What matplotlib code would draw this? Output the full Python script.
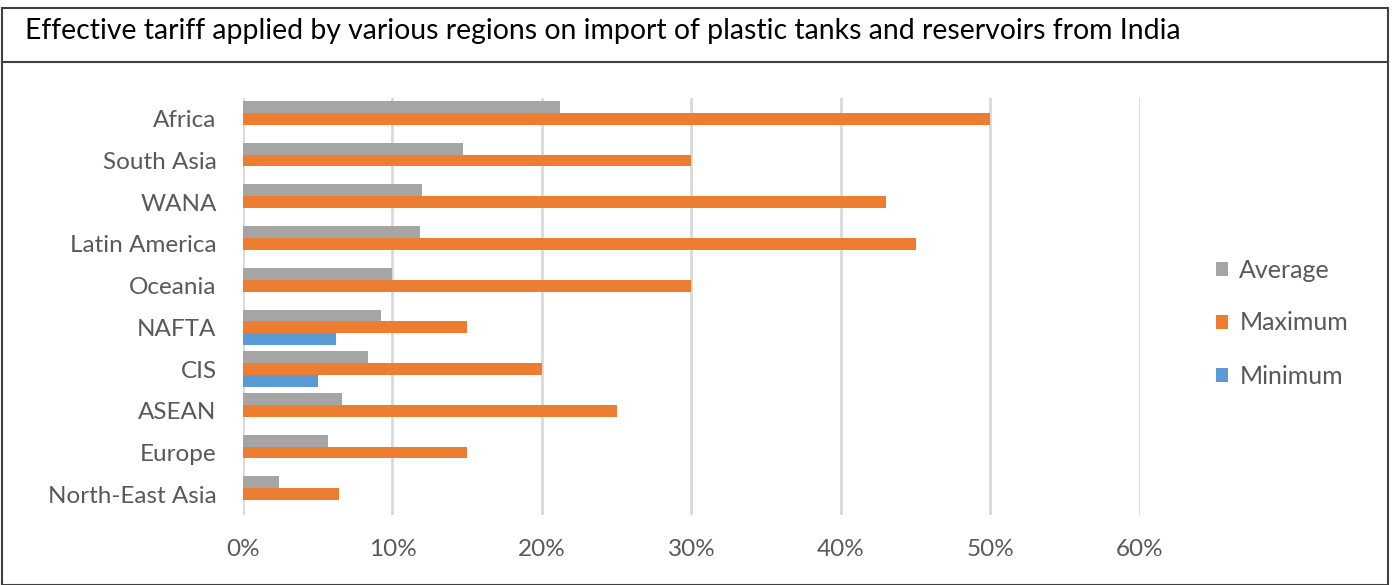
import numpy as np
import matplotlib
matplotlib.use('Agg')
import matplotlib.pyplot as plt
from matplotlib.lines import Line2D
from matplotlib.patches import Rectangle

regions = ["Africa", "South Asia", "WANA", "Latin America", "Oceania",
           "NAFTA", "CIS", "ASEAN", "Europe", "North-East Asia"]
average = [21.2, 14.7, 12.0, 11.85, 10.0, 9.25, 8.35, 6.6, 5.7, 2.4]
maximum = [50, 30, 43, 45, 30, 15, 20, 25, 15, 6.45]
minimum = [0, 0, 0, 0, 0, 6.2, 5.0, 0, 0, 0]
x_ticks = [0, 10, 20, 30, 40, 50, 60]
title = "Effective tariff applied by various regions on import of plastic tanks and reservoirs from India"

plt.rcParams['font.family'] = ['Lato', 'DejaVu Sans']
text_col = '#595959'

fig = plt.figure(figsize=(13.92, 5.85), dpi=100)
ax = fig.add_axes([243 / 1392, 1 - 515 / 585, (1140 - 243) / 1392, (515 - 98) / 585])

y = np.arange(len(regions))
h = 0.285
ax.barh(y - h, average, h, color='#A5A5A5', label='Average')
ax.barh(y, maximum, h, color='#ED7D31', label='Maximum')
ax.barh(y + h, minimum, h, color='#5B9BD5', label='Minimum')

ax.set_ylim(9.5, -0.5)
ax.set_xlim(0, 60)
ax.set_yticks(y)
ax.set_yticklabels(regions, fontsize=17.5, color=text_col)
ax.set_xticks(x_ticks)
ax.set_xticklabels([f"{t}%" for t in x_ticks], fontsize=17.5, color=text_col)
ax.tick_params(axis='y', length=0, pad=19)
ax.tick_params(axis='x', length=0, pad=17)
ax.grid(axis='x', color='#D9D9D9', linewidth=2)
ax.set_axisbelow(True)
for s in ax.spines.values():
    s.set_visible(False)

handles, labels = ax.get_legend_handles_labels()
fig.legend(handles, labels, loc='center left', bbox_to_anchor=(1193 / 1392, 1 - 323 / 585),
           frameon=False, fontsize=18, labelcolor=text_col, handlelength=0.5,
           handleheight=0.5, handletextpad=0.45, labelspacing=1.2)

# frame around the chart and title box
fig.add_artist(Rectangle((2 / 1392, 0), 1386 / 1392, 1 - 8 / 585, transform=fig.transFigure,
                         fill=False, edgecolor='#404040', linewidth=1.5))
fig.add_artist(Line2D([2 / 1392, 1388 / 1392], [1 - 62 / 585] * 2, transform=fig.transFigure,
                      color='#404040', linewidth=1.5))
fig.text(25 / 1392, 1 - 31 / 585, title, fontsize=20.4, color='black', va='center', ha='left')

fig.savefig('out.png', dpi=100, facecolor='white')
